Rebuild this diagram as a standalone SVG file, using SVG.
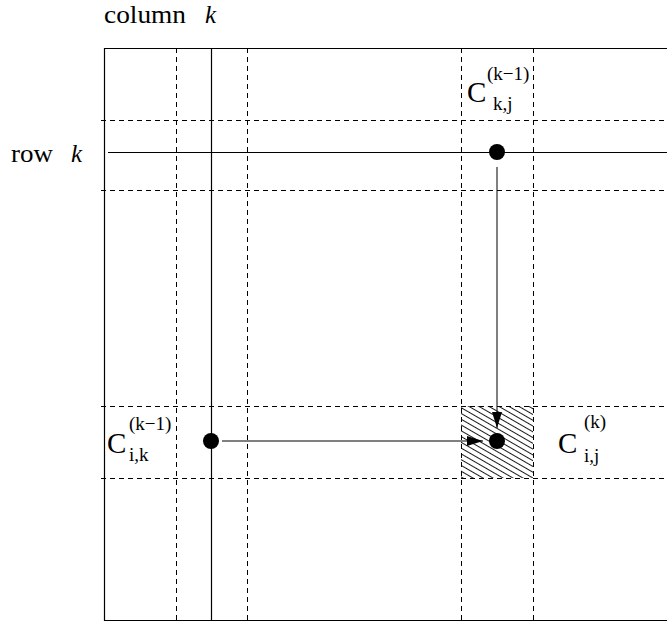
<svg xmlns="http://www.w3.org/2000/svg" width="667" height="624" viewBox="0 0 667 624">
<style>
.solid{stroke:#000;stroke-width:1.2;fill:none}
.dash{stroke:#000;stroke-width:1;stroke-dasharray:5,4;fill:none}
.lbl{font-family:"Liberation Serif","Times New Roman",serif;fill:#000}
.big{font-size:25px}
.C{font-size:29px}
.sm{font-size:19px}
.it{font-style:italic}
.dot{fill:#000}
.arr{stroke:#000;stroke-width:1;fill:none;marker-end:url(#ah)}
</style>
<defs>
<marker id="ah" markerUnits="userSpaceOnUse" markerWidth="16" markerHeight="10" viewBox="0 0 16 10" refX="16" refY="5" orient="auto">
<path d="M0,0 L16,5 L0,10 z" fill="#000"/>
</marker>
<pattern id="hatch" patternUnits="userSpaceOnUse" width="5" height="5" patternTransform="rotate(30)">
<line x1="0" y1="2.5" x2="5" y2="2.5" stroke="#000" stroke-width="0.9"/>
</pattern>
</defs>
<rect width="667" height="624" fill="#fff"/>
<g id="grid">
<rect x="461" y="406" width="72" height="72" fill="url(#hatch)"/>
<path class="solid" d="M667,48.5 H104.5 V620.5 H667"/>
<path class="dash" d="M176.5,48 V620 M247.5,48 V620 M461.5,48 V620 M533.5,48 V620"/>
<path class="dash" d="M101,120.5 H667 M101,190.5 H667 M101,406.5 H667 M101,478.5 H667"/>
<path class="solid" d="M211.5,48 V620 M108,152.5 H667"/>
</g>
<g id="labels">
<text class="lbl big" x="104" y="22.5" textLength="82" lengthAdjust="spacingAndGlyphs">column</text>
<text class="lbl big it" x="205" y="22.5">k</text>
<text class="lbl big" x="11" y="162" textLength="42" lengthAdjust="spacingAndGlyphs">row</text>
<text class="lbl big it" x="71" y="162">k</text>
</g>
<g id="node-ckj">
<circle class="dot" cx="497" cy="152" r="8"/>
<text class="lbl C" x="467" y="102">C</text>
<text class="lbl sm" x="487" y="80">(k−1)</text>
<text class="lbl sm" x="493" y="110">k,j</text>
</g>
<g id="node-cik">
<circle class="dot" cx="211" cy="441" r="8"/>
<text class="lbl C" x="107" y="453">C</text>
<text class="lbl sm" x="129" y="430">(k−1)</text>
<text class="lbl sm" x="129" y="461">i,k</text>
</g>
<g id="node-cij">
<circle class="dot" cx="497" cy="441" r="8"/>
<text class="lbl C" x="558" y="453">C</text>
<text class="lbl sm" x="584" y="428">(k)</text>
<text class="lbl sm" x="584" y="462">i,j</text>
</g>
<g id="connectors">
<line class="arr" x1="497" y1="167" x2="497" y2="428"/>
<line class="arr" x1="222" y1="441" x2="483" y2="441"/>
</g>
</svg>
